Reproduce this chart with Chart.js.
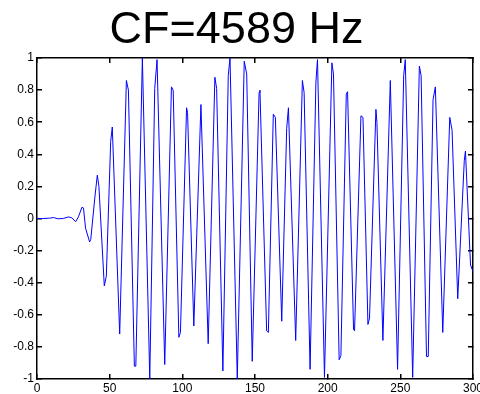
<!DOCTYPE html>
<html lang="en">
<head>
  <meta charset="UTF-8">
  <title>CF=4589 Hz</title>
  <style>
    html, body {
      margin: 0;
      padding: 0;
      background: #ffffff;
    }

    #wrap {
      width: 480px;
      height: 394px;
    }
  </style>
</head>
<body>

  <div id="wrap"><canvas id="myChart" width="480" height="394"></canvas></div>

  <script src="https://cdn.jsdelivr.net/npm/chart.js"></script>
  <script>
    // sample positions and amplitudes (tips, shoulders, quiet start)
    const sampleX = [
      0, 4, 8.6, 11.4, 14.4, 18, 21.7, 24, 26.6, 28.5, 30.9, 32, 33.4, 36.2, 37,
      39.9, 41.5, 42.6, 46.3, 47.7, 50.7, 51.8, 56.9, 61.5, 62.9, 67, 68, 72.5, 77.6,
      81, 82.6, 87.9, 92.5, 93.7, 97.6, 98.7, 102.9, 103.6, 107.9, 112.8, 117.8,
      122.4, 123.6, 127.9, 131.6, 132.8, 137.8, 142.6, 144.3, 148.1, 152.8, 153.4,
      158, 159.2, 162.6, 164, 168.4, 171.8, 173, 178, 182.6, 183.8, 187.9, 191.9, 193,
      197.8, 202.9, 204, 207.9, 209.1, 212.8, 213.7, 217.8, 218.5, 222.9, 224.3,
      227.7, 228.8, 233.2, 233.9, 238, 243.1, 248.1, 252.3, 253.4, 258.5, 263.1,
      264.3, 268, 269.2, 272.5, 274.1, 279.2, 284, 285.6, 289.5, 294, 294.8, 298.3, 300
    ];
    const sampleY = [
      0, 0, 0.002, 0.006, -0.002, 0, 0.01, 0.004, -0.02, 0.01, 0.07, 0.065, -0.06, -0.146, -0.13,
      0.14, 0.27, 0.2, -0.42, -0.36, 0.48, 0.57, -0.72, 0.86, 0.8, -0.92, -0.92, 1.0, -1.0,
      0.81, 0.99, -0.91, 0.82, 0.8, -0.74, -0.71, 0.69, 0.66, -0.67, 0.71, -0.78,
      0.88, 0.81, -0.95, 0.89, 1.0, -1.0, 0.98, 0.9, -0.89, 0.785, 0.8,
      -0.7, -0.71, 0.65, 0.63, -0.64, 0.56, 0.69, -0.76, 0.86, 0.785, -0.94, 0.85, 0.99,
      -0.99, 0.97, 0.9, -0.88, -0.855, 0.775, 0.79, -0.69, -0.7, 0.64, 0.63,
      -0.66, -0.62, 0.68, 0.6, -0.76, 0.86, -0.94, 0.89, 0.99, -0.99, 0.95,
      0.89, -0.86, -0.86, 0.74, 0.82, -0.71, 0.63, 0.55, -0.5, 0.36, 0.42, -0.29, -0.33
    ];
    const xTicks = [0, 50, 100, 150, 200, 250, 300];
    const yTicks = [-1, -0.8, -0.6, -0.4, -0.2, 0, 0.2, 0.4, 0.6, 0.8, 1];

    const points = sampleX.map((x, i) => ({ x: x, y: sampleY[i] }));

    const frameColor = '#000000';
    const tickFont = { family: 'Liberation Sans, Arial, sans-serif', size: 12 };

    // tick marks point into the plot (negative length), no grid inside
    const inwardGrid = { display: true, drawOnChartArea: false, drawTicks: true, tickLength: -5, color: frameColor, lineWidth: 1.5 };
    const frameBorder = { display: true, color: frameColor, width: 1.5 };

    const ctx = document.getElementById('myChart').getContext('2d');
    const myChart = new Chart(ctx, {
      type: 'line',
      data: {
        datasets: [{
          data: points,
          borderColor: '#0000ff',
          borderWidth: 1,
          pointRadius: 0,
          tension: 0,
          fill: false
        }]
      },
      options: {
        responsive: false,
        animation: false,
        layout: { padding: { left: 0, right: 7, top: 0, bottom: 0 } },
        plugins: {
          legend: { display: false },
          tooltip: { enabled: false },
          title: {
            display: true,
            text: 'CF=4589 Hz',
            color: '#000000',
            font: { family: 'Liberation Sans, Arial, sans-serif', size: 45, weight: 'normal' },
            padding: { top: 4, bottom: 0 }
          }
        },
        scales: {
          x: {
            type: 'linear',
            position: 'bottom',
            min: 0,
            max: 300,
            grid: inwardGrid,
            border: frameBorder,
            afterBuildTicks: scale => { scale.ticks = xTicks.map(v => ({ value: v })); },
            afterFit: scale => { scale.height = 15; scale.paddingLeft = 0; scale.paddingRight = 0; },
            ticks: {
              color: '#000000',
              padding: 7,
              maxRotation: 0,
              autoSkip: false,
              font: tickFont,
              callback: v => String(v)
            }
          },
          xTop: {
            type: 'linear',
            position: 'top',
            min: 0,
            max: 300,
            grid: inwardGrid,
            border: frameBorder,
            afterBuildTicks: scale => { scale.ticks = xTicks.map(v => ({ value: v })); },
            afterFit: scale => { scale.height = 0; scale.paddingLeft = 0; scale.paddingRight = 0; },
            ticks: { display: false }
          },
          y: {
            position: 'left',
            min: -1,
            max: 1,
            grid: inwardGrid,
            border: frameBorder,
            afterBuildTicks: scale => { scale.ticks = yTicks.map(v => ({ value: v })); },
            afterFit: scale => { scale.width = 37; scale.paddingTop = 0; scale.paddingBottom = 0; },
            ticks: {
              color: '#000000',
              padding: 8,
              autoSkip: false,
              font: tickFont,
              callback: v => String(v)
            }
          },
          yRight: {
            position: 'right',
            min: -1,
            max: 1,
            grid: inwardGrid,
            border: frameBorder,
            afterBuildTicks: scale => { scale.ticks = yTicks.map(v => ({ value: v })); },
            afterFit: scale => { scale.width = 0; scale.paddingTop = 0; scale.paddingBottom = 0; },
            ticks: { display: false }
          }
        }
      }
    });
  </script>
</body>
</html>
